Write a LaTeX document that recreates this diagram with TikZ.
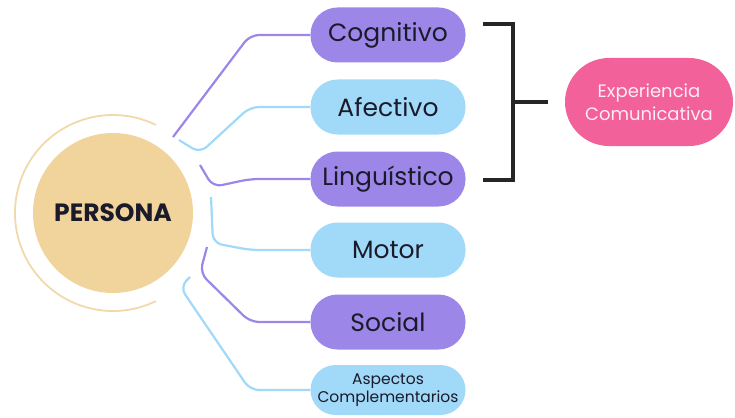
\documentclass[tikz,border=0pt]{standalone}
\usepackage{fontspec}
\setmainfont{Poppins}
\usetikzlibrary{calc}
\definecolor{cpurple}{HTML}{9C86E8}
\definecolor{cblue}{HTML}{A0DAF8}
\definecolor{cpink}{HTML}{F2619A}
\definecolor{ccircle}{HTML}{F1D49C}
\definecolor{cring}{HTML}{F1D9AA}
\definecolor{ctext}{HTML}{1A1A2A}
\tikzset{
  pill/.style={rounded corners=27pt, minimum width=155pt, minimum height=55pt, inner sep=0pt, text=ctext, font=\fontsize{25}{28}\selectfont},
  pillp/.style={pill, fill=cpurple},
  pillb/.style={pill, fill=cblue},
  conn/.style={line width=2.2pt, rounded corners=9pt},
  connp/.style={conn, draw=cpurple},
  connb/.style={conn, draw=cblue},
  brk/.style={line width=3.2pt, draw=black!85},
}
\begin{document}
\begin{tikzpicture}[x=1pt,y=-1pt]
\useasboundingbox (0,0) rectangle (735,417);
% persona
\draw[cring, line width=1.8pt] (113,213) ++(64:98) arc[start angle=64, end angle=296, radius=98];
\node[circle, fill=ccircle, minimum size=160pt, inner sep=0pt, font=\bfseries\fontsize{25}{28}\selectfont, text=ctext] (per) at (113,213) {PERSONA};
% pills
\node[pillp] (cog) at (388,35) {Cognitivo};
\node[pillb] (afe) at (388,107) {Afectivo};
\node[pillp] (lin) at (388,179) {Linguístico};
\node[pillb] (mot) at (388,250) {Motor};
\node[pillp] (soc) at (388,322) {Social};
\node[pillb, minimum height=50pt, rounded corners=25pt, font=\fontsize{15.5}{18}\selectfont, align=center] (asp) at (388,390) {Aspectos\\Complementarios};
\node[rounded corners=44pt, fill=cpink, minimum width=168pt, minimum height=88pt, inner sep=0pt, text=white!88!cpink, font=\fontsize{18}{23}\selectfont, align=center] (exp) at (649,102) {Experiencia\\Comunicativa};
% connector start points
\coordinate (s1) at (173,137);
\coordinate (s2) at (179,140);
\coordinate (s3) at (200,165);
\coordinate (s4) at (211,197);
\coordinate (s5) at (207,247);
\coordinate (s6) at (190,277);
\draw[connp] (s1) -- (250,35) -- (cog.west);
\draw[connb] (s2) -- (200,153) -- (250,107) -- (afe.west);
\draw[connp] (s3) -- (213,187) -- (250,179) -- (lin.west);
\draw[connb] (s4) -- (213,243) -- (250,250) -- (mot.west);
\draw[connp] (s5) -- (200,273) -- (250,322) -- (soc.west);
\draw[connb] (s6) -- (180,287) -- (250,390) -- (asp.west);
% bracket
\coordinate (b1) at (483,24);
\coordinate (b2) at (483,180);
\coordinate (bm) at (548,102);
\draw[brk] (b1) -- (513,24) -- (513,180) -- (b2);
\draw[brk] (513,102) -- (bm);
\end{tikzpicture}
\end{document}
